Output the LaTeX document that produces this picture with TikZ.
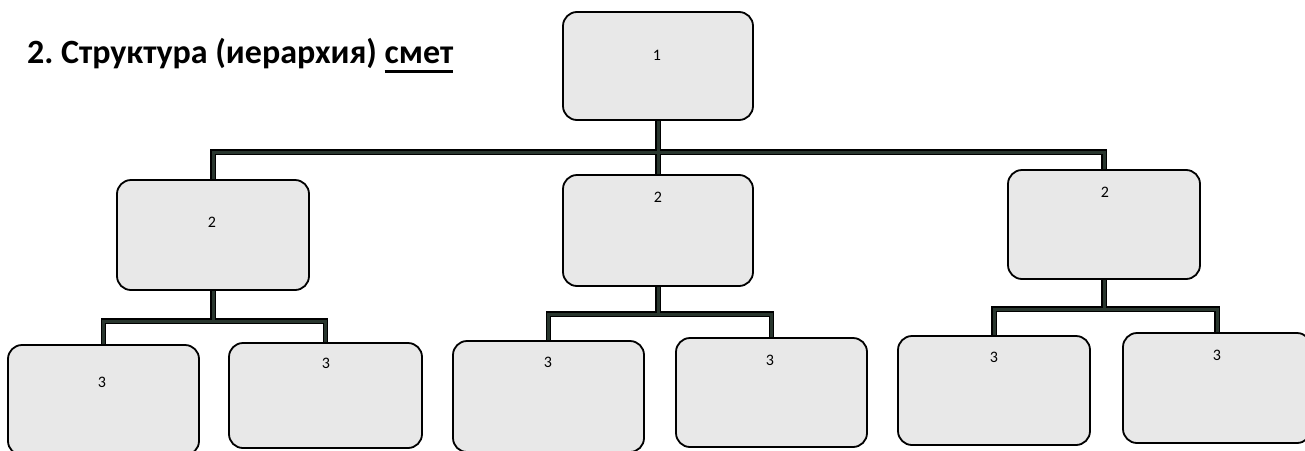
\documentclass[tikz,border=0pt]{standalone}
\usepackage{fontspec}
\setmainfont{Carlito}
\usetikzlibrary{backgrounds}
\definecolor{boxfill}{gray}{0.91}
\definecolor{linkcore}{rgb}{0.16,0.21,0.18}
% word with a thick rule beneath it
\newcommand\ulword[1]{\leavevmode\vtop{\hbox{#1}\kern7pt\hrule height 2.6pt}}
\begin{document}
\begin{tikzpicture}[x=1pt,y=-1pt,
  box/.style={draw=black, line width=1.8pt, fill=boxfill, rounded corners=14pt,
              inner sep=0pt, outer sep=0pt},
  num/.style={font=\fontsize{16}{16}\selectfont, inner sep=0pt},
  link/.style={draw=black, line width=1.4pt, double=linkcore, double distance=3pt}]
\useasboundingbox (0,0) rectangle (1305,450);
\clip (0,0) rectangle (1305,450);

% heading
\node[anchor=base west, inner sep=0pt, font=\bfseries\fontsize{34}{34}\selectfont\frenchspacing]
  (title) at (27,63) {2. Структура (иерархия) \ulword{смет}};

% level 1
\node[box, minimum width=190pt, minimum height=108pt] (top) at (658,66) {};
% level 2
\node[box, minimum width=192pt, minimum height=110pt] (l2a) at (213,235) {};
\node[box, minimum width=190pt, minimum height=111pt] (l2b) at (658,230.5) {};
\node[box, minimum width=192pt, minimum height=109pt] (l2c) at (1104,224.5) {};
% level 3
\node[box, minimum width=191pt, minimum height=110pt] (l3a) at (103.5,400) {};
\node[box, minimum width=193pt, minimum height=105pt] (l3b) at (325.5,395.5) {};
\node[box, minimum width=191pt, minimum height=111pt] (l3c) at (548.5,396.5) {};
\node[box, minimum width=191pt, minimum height=109pt] (l3d) at (771.5,392.5) {};
\node[box, minimum width=192pt, minimum height=109pt] (l3e) at (994,390.5) {};
\node[box, minimum width=188pt, minimum height=110pt] (l3f) at (1217,388) {};

% box numbers
\node[num] (n1)  at (657,55)  {1};
\node[num] (n2a) at (212,222) {2};
\node[num] (n2b) at (658,197) {2};
\node[num] (n2c) at (1105,192) {2};
\node[num] (n3a) at (102,382) {3};
\node[num] (n3b) at (326,363) {3};
\node[num] (n3c) at (548,362) {3};
\node[num] (n3d) at (770,360) {3};
\node[num] (n3e) at (994,357) {3};
\node[num] (n3f) at (1217,355) {3};

% branch points
\coordinate (j0) at (658,152);
\coordinate (ja) at (213,321);
\coordinate (jb) at (658,314);
\coordinate (jc) at (1104,309);

% connectors behind the boxes, a dark core inside a black casing
\begin{scope}[on background layer]
\draw[link]
  (top.south) -- (j0)
  (j0) -| (l2a.north)
  (j0) -- (l2b.north)
  (j0) -| (l2c.north)
  (l2a.south) -- (ja)
  (ja) -| (l3a.north)
  (ja) -| (l3b.north)
  (l2b.south) -- (jb)
  (jb) -| (l3c.north)
  (jb) -| (l3d.north)
  (l2c.south) -- (jc)
  (jc) -| (l3e.north)
  (jc) -| (l3f.north);
\end{scope}
\end{tikzpicture}
\end{document}
